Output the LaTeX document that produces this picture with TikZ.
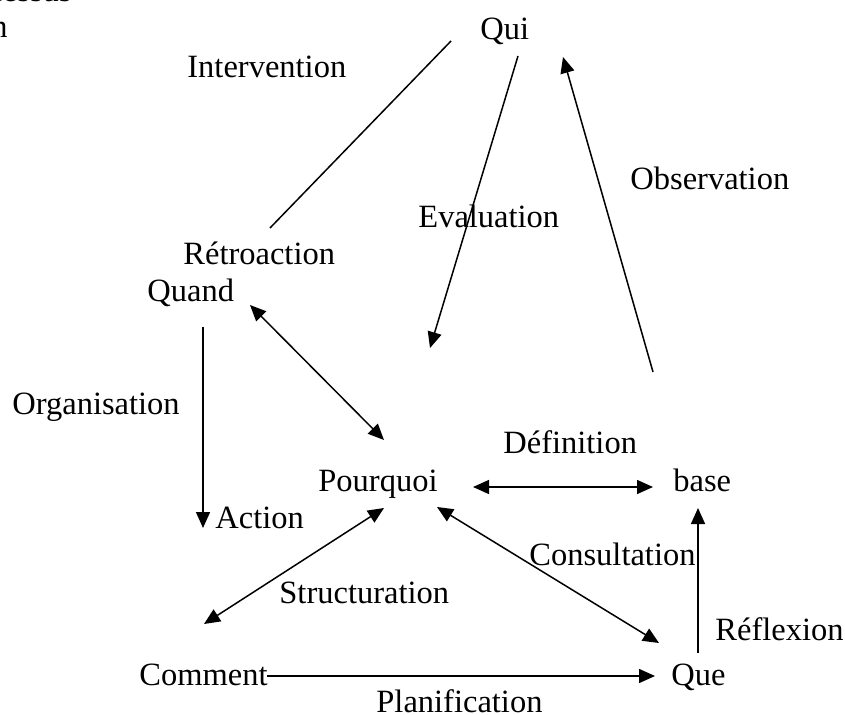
\documentclass[tikz,border=0pt]{standalone}
\usepackage{fontspec}
\setmainfont{Liberation Serif}
\usetikzlibrary{arrows.meta}
\tikzset{
  lbl/.style={inner sep=0pt, anchor=base west, font=\fontsize{16.25pt}{19pt}\selectfont},
  conn/.style={line width=0.75pt, draw=black},
  tip/.style={-{Triangle[length=8pt,width=7pt]}},
  tips/.style={{Triangle[length=8pt,width=7pt]}-{Triangle[length=8pt,width=7pt]}},
}
\begin{document}
\begin{tikzpicture}[x=0.5pt,y=-0.5pt]
\useasboundingbox (0,0) rectangle (845,715);
\clip (0,0) rectangle (845,715);
% clipped fragments at top-left
\node[lbl, anchor=base east] (frag1) at (72,2) {Processus};
\node[lbl, anchor=base east] (frag2) at (8,38) {n};
% labels
\node[lbl] (qui) at (480,40) {Qui};
\node[lbl] (interv) at (187,78) {Intervention};
\node[lbl] (obs) at (630,190) {Observation};
\node[lbl] (eval) at (418,228) {Evaluation};
\node[lbl] (retro) at (183,265) {Rétroaction};
\node[lbl] (quand) at (147,302) {Quand};
\node[lbl] (orga) at (12,415) {Organisation};
\node[lbl] (defi) at (503,453) {Définition};
\node[lbl] (pourq) at (318,491) {Pourquoi};
\node[lbl] (base) at (673,491) {base};
\node[lbl] (action) at (215,528) {Action};
\node[lbl] (consu) at (529,565) {Consultation};
\node[lbl] (struc) at (279,603) {Structuration};
\node[lbl] (refl) at (715,640) {Réflexion};
\node[lbl] (comm) at (139,685) {Comment};
\node[lbl] (que) at (671,685) {Que};
\node[lbl] (plan) at (376,712) {Planification};
% connector end points
\coordinate (interA) at (451,41);
\coordinate (interB) at (270,228);
\coordinate (evalA) at (518,56);
\coordinate (evalB) at (430,348);
\coordinate (obsA) at (653,372);
\coordinate (obsB) at (563,57);
\coordinate (qpA) at (250,305);
\coordinate (qpB) at (384,440);
\coordinate (qaA) at (203,327);
\coordinate (qaB) at (203,528);
\coordinate (defA) at (473,487);
\coordinate (defB) at (653,487);
\coordinate (pcA) at (384,508);
\coordinate (pcB) at (204,624);
\coordinate (pqA) at (437,507);
\coordinate (pqB) at (659,643);
\coordinate (cqA) at (267,676);
\coordinate (cqB) at (655,676);
\coordinate (qbA) at (698,653);
\coordinate (qbB) at (698,508);
% connectors
\draw[conn] (interA) -- (interB);
\draw[conn, tip] (evalA) -- (evalB);
\draw[conn, tip] (obsA) -- (obsB);
\draw[conn, tips] (qpA) -- (qpB);
\draw[conn, tip] (qaA) -- (qaB);
\draw[conn, tips] (defA) -- (defB);
\draw[conn, tips] (pcA) -- (pcB);
\draw[conn, tips] (pqA) -- (pqB);
\draw[conn, tip] (cqA) -- (cqB);
\draw[conn, tip] (qbA) -- (qbB);
\end{tikzpicture}
\end{document}
